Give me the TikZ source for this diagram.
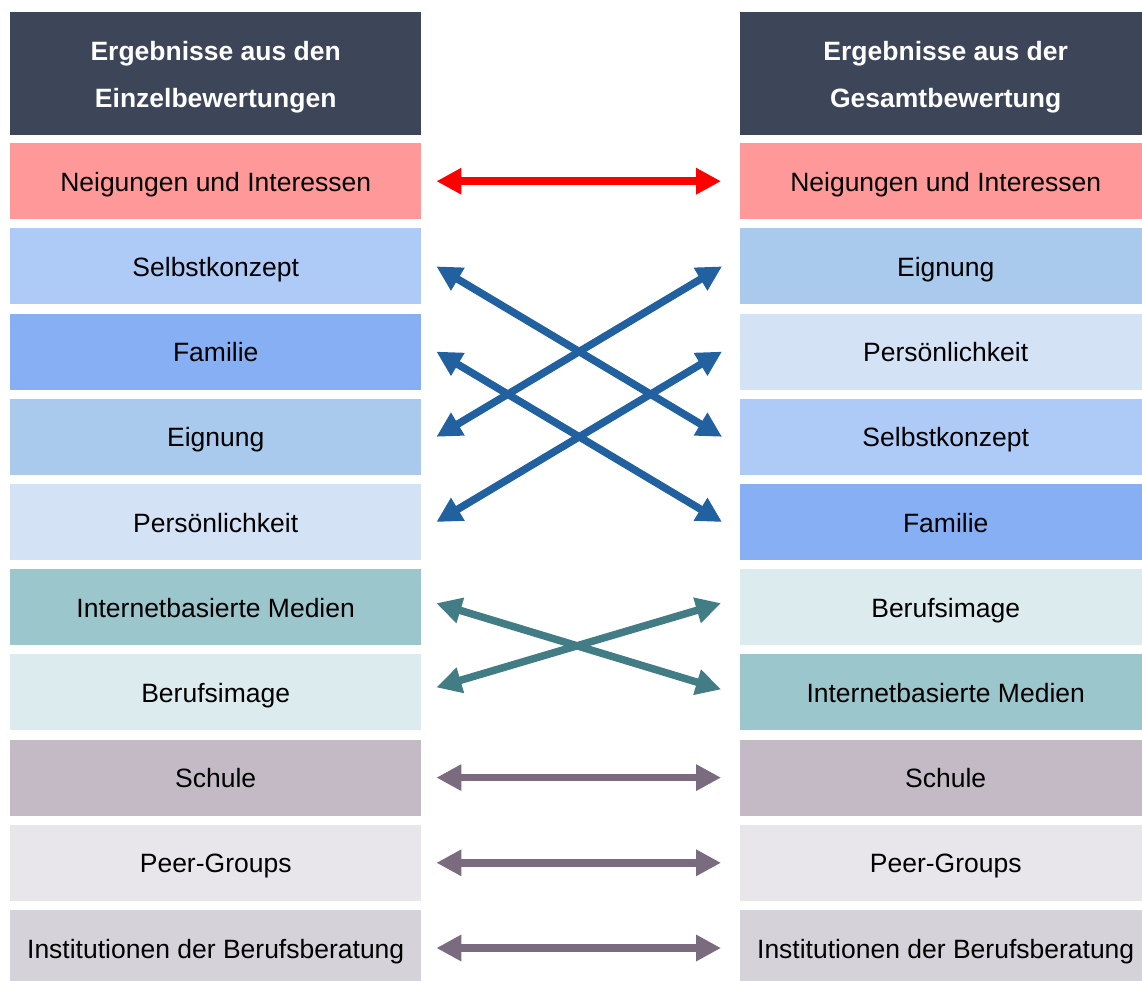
\documentclass[tikz,border=0pt]{standalone}
\usepackage{fontspec}
\setmainfont{Liberation Sans}
\usetikzlibrary{arrows.meta}
\definecolor{hdr}{HTML}{3C4658}
\definecolor{cNeig}{HTML}{FF9999}
\definecolor{cSelb}{HTML}{AECBF8}
\definecolor{cFam}{HTML}{86B0F3}
\definecolor{cEig}{HTML}{A9CAEC}
\definecolor{cPers}{HTML}{D3E3F5}
\definecolor{cInt}{HTML}{9BC6CC}
\definecolor{cBer}{HTML}{DCEBED}
\definecolor{cSch}{HTML}{C3BAC6}
\definecolor{cPeer}{HTML}{E8E6EA}
\definecolor{cInst}{HTML}{D6D2DA}
\definecolor{aRed}{HTML}{FF0000}
\definecolor{aBlue}{HTML}{2161A0}
\definecolor{aTeal}{HTML}{427C85}
\definecolor{aPurp}{HTML}{7B6B7E}
\begin{document}
\begin{tikzpicture}[x=1pt,y=-1pt,
  box/.style={minimum width=411pt, minimum height=76pt, inner sep=0pt, anchor=north west,
    text height=26pt, text depth=6pt,
    font=\fontsize{26.5}{30}\selectfont, text=black},
  hbox/.style={fill=hdr, minimum width=411pt, minimum height=123pt, inner sep=0pt, anchor=north west,
    align=center, text=white, font=\bfseries\fontsize{26.5}{47}\selectfont},
  dbl/.style={line width=7.5pt, {Triangle[length=25pt,width=25pt]}-{Triangle[length=25pt,width=25pt]}}
]
\useasboundingbox (0,0) rectangle (1142,980);
\fill[white] (0,0) rectangle (1142,980);
% headers
\node[hbox] (lH) at (10,12) {\rule{0pt}{26pt}Ergebnisse aus den\\Einzelbewertungen};
\node[hbox] (rH) at (740,12) {\rule{0pt}{26pt}Ergebnisse aus der\\Gesamtbewertung};
% left column
\node[box, fill=cNeig] (lNeig) at (10,143) {Neigungen und Interessen};
\node[box, fill=cSelb] (lSelb) at (10,228.2) {Selbstkonzept};
\node[box, fill=cFam]  (lFam)  at (10,313.4) {Familie};
\node[box, fill=cEig]  (lEig)  at (10,398.6) {Eignung};
\node[box, fill=cPers] (lPers) at (10,483.8) {Persönlichkeit};
\node[box, fill=cInt]  (lInt)  at (10,569) {Internetbasierte Medien};
\node[box, fill=cBer]  (lBer)  at (10,654.2) {Berufsimage};
\node[box, fill=cSch]  (lSch)  at (10,739.4) {Schule};
\node[box, fill=cPeer] (lPeer) at (10,824.6) {Peer-Groups};
\node[box, fill=cInst] (lInst) at (10,909.8) {Institutionen der Berufsberatung};
% right column
\node[box, fill=cNeig] (rNeig) at (740,143) {Neigungen und Interessen};
\node[box, fill=cEig]  (rEig)  at (740,228.2) {Eignung};
\node[box, fill=cPers] (rPers) at (740,313.4) {Persönlichkeit};
\node[box, fill=cSelb] (rSelb) at (740,398.6) {Selbstkonzept};
\node[box, fill=cFam]  (rFam)  at (740,483.8) {Familie};
\node[box, fill=cBer]  (rBer)  at (740,569) {Berufsimage};
\node[box, fill=cInt]  (rInt)  at (740,654.2) {Internetbasierte Medien};
\node[box, fill=cSch]  (rSch)  at (740,739.4) {Schule};
\node[box, fill=cPeer] (rPeer) at (740,824.6) {Peer-Groups};
\node[box, fill=cInst] (rInst) at (740,909.8) {Institutionen der Berufsberatung};
% arrows
\draw[dbl, aRed] ([xshift=15pt]lNeig.east) -- ([xshift=-19pt]rNeig.west);
\draw[dbl, aBlue] ([xshift=15pt]lSelb.east) -- ([xshift=-18pt]rSelb.west);
\draw[dbl, aBlue] ([xshift=15pt]lFam.east) -- ([xshift=-18pt]rFam.west);
\draw[dbl, aBlue] ([xshift=15pt]lEig.east) -- ([xshift=-18pt]rEig.west);
\draw[dbl, aBlue] ([xshift=15pt]lPers.east) -- ([xshift=-18pt]rPers.west);
\draw[dbl, aTeal] ([xshift=15pt,yshift=4pt]lInt.east) -- ([xshift=-19pt,yshift=3pt]rInt.west);
\draw[dbl, aTeal] ([xshift=15pt,yshift=5pt]lBer.east) -- ([xshift=-19pt,yshift=4pt]rBer.west);
\draw[dbl, aPurp] ([xshift=15pt]lSch.east) -- ([xshift=-19pt]rSch.west);
\draw[dbl, aPurp] ([xshift=15pt]lPeer.east) -- ([xshift=-19pt]rPeer.west);
\draw[dbl, aPurp] ([xshift=15pt]lInst.east) -- ([xshift=-19pt]rInst.west);
\end{tikzpicture}
\end{document}
